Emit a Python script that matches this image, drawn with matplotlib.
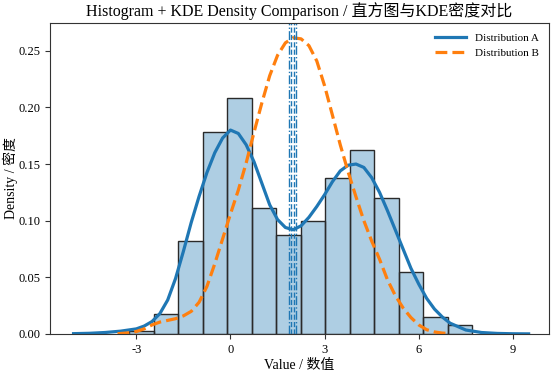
import matplotlib
matplotlib.use("Agg")
import matplotlib.pyplot as plt
import numpy as np

plt.rcParams['font.family'] = ['Liberation Serif', 'Noto Sans CJK SC', 'DejaVu Sans']
plt.rcParams['axes.unicode_minus'] = False

# Histogram of Distribution A (density)
bin_edges = [-3.22, -2.44, -1.66, -0.88, -0.10, 0.68, 1.46, 2.24, 3.02,
             3.80, 4.58, 5.36, 6.14, 6.92, 7.70]
hist_density = [0.003, 0.018, 0.082, 0.178, 0.208, 0.111, 0.087, 0.100,
                0.138, 0.162, 0.120, 0.055, 0.015, 0.008]

# KDE curve A
kde_a_x = [-5.0, -4.5, -4.0, -3.5, -3.0, -2.75, -2.5, -2.25, -2.0, -1.75, -1.5,
           -1.25, -1.0, -0.75, -0.5, -0.25, 0.0, 0.25, 0.5, 0.75, 1.0, 1.25,
           1.5, 1.75, 2.0, 2.25, 2.5, 2.75, 3.0, 3.25, 3.5, 3.75, 4.0, 4.25,
           4.5, 4.75, 5.0, 5.25, 5.5, 5.75, 6.0, 6.25, 6.5, 6.75, 7.0, 7.5,
           8.0, 8.5, 9.0, 9.5]
kde_a_y = [0.0003, 0.0006, 0.0013, 0.0025, 0.0045, 0.0070, 0.0110, 0.0180,
           0.0300, 0.0490, 0.0730, 0.0985, 0.1215, 0.1425, 0.1600, 0.1730,
           0.1800, 0.1770, 0.1670, 0.1520, 0.1330, 0.1140, 0.1010, 0.0940,
           0.0920, 0.0955, 0.1030, 0.1125, 0.1230, 0.1345, 0.1440, 0.1490,
           0.1500, 0.1470, 0.1380, 0.1250, 0.1090, 0.0920, 0.0750, 0.0580,
           0.0440, 0.0315, 0.0220, 0.0150, 0.0095, 0.0035, 0.0013, 0.0005,
           0.0002, 0.0001]

# KDE curve B
kde_b_x = [-3.6, -3.25, -3.0, -2.75, -2.5, -2.25, -2.0, -1.75, -1.5, -1.25,
           -1.0, -0.75, -0.5, -0.25, 0.0, 0.25, 0.5, 0.75, 1.0, 1.25, 1.5,
           1.75, 2.0, 2.25, 2.5, 2.75, 3.0, 3.25, 3.5, 3.75, 4.0, 4.25, 4.5,
           4.75, 5.0, 5.25, 5.5, 5.75, 6.0, 6.25, 6.5, 6.75, 7.0]
kde_b_y = [0.0002, 0.0010, 0.0022, 0.0045, 0.0080, 0.0105, 0.0120, 0.0135,
           0.0160, 0.0200, 0.0280, 0.0420, 0.0620, 0.0840, 0.1060, 0.1270,
           0.1510, 0.1780, 0.2040, 0.2280, 0.2460, 0.2570, 0.2615, 0.2605,
           0.2545, 0.2410, 0.2190, 0.1930, 0.1668, 0.1430, 0.1210, 0.1000,
           0.0820, 0.0660, 0.0480, 0.0340, 0.0230, 0.0145, 0.0080, 0.0038,
           0.0018, 0.0008, 0.0004]

# Mean / median markers
mean_a, median_a = 1.93, 1.85
mean_b, median_b = 2.01, 2.09

fig = plt.figure(figsize=(5.54, 3.73), dpi=100)
ax = fig.add_axes([0.0903, 0.1046, 0.9007, 0.8337])

edges = np.array(bin_edges)
ax.bar(edges[:-1], hist_density, width=np.diff(edges), align='edge',
       color='#1f77b4', alpha=0.36, edgecolor='none')
ax.bar(edges[:-1], hist_density, width=np.diff(edges), align='edge',
       facecolor='none', edgecolor='#2a2a2a', linewidth=1.0)

ax.plot(kde_a_x, kde_a_y, color='#1f77b4', lw=2.3, label='Distribution A')
ax.plot(kde_b_x, kde_b_y, color='#ff7f0e', lw=2.3, ls='--', label='Distribution B')

ax.axvline(mean_a, color='#1f77b4', lw=1.0, ls='--')
ax.axvline(median_a, color='#1f77b4', lw=1.0, ls='-.')
ax.axvline(mean_b, color='#1f77b4', lw=1.0, ls='--')
ax.axvline(median_b, color='#1f77b4', lw=1.0, ls='-.')

ax.set_xlim(-5.75, 10.15)
ax.set_ylim(0, 0.2745)
ax.set_xticks([-3, 0, 3, 6, 9])
ax.set_yticks([0.0, 0.05, 0.10, 0.15, 0.20, 0.25])
ax.set_yticklabels(['0.00', '0.05', '0.10', '0.15', '0.20', '0.25'])
ax.tick_params(labelsize=9, length=3.5, color='#333333')
for s in ax.spines.values():
    s.set_color('#333333')

ax.set_title('Histogram + KDE Density Comparison / 直方图与KDE密度对比',
             fontsize=11.5, pad=5)
ax.set_xlabel('Value / 数值', fontsize=10, labelpad=2)
ax.set_ylabel('Density / 密度', fontsize=10, labelpad=0)
ax.legend(loc='upper right', frameon=False, fontsize=8, handlelength=2.8)

fig.savefig('out.png', dpi=100)
